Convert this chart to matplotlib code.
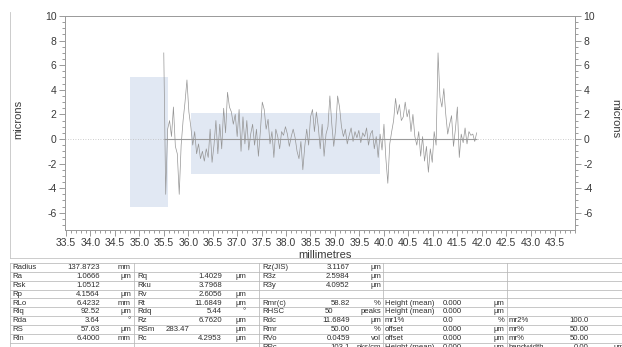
import matplotlib
matplotlib.use("Agg")
import matplotlib.pyplot as plt
import numpy as np
from matplotlib.ticker import MultipleLocator, FormatStrFormatter
from matplotlib.patches import Rectangle

plt.rcParams['font.family'] = ['Liberation Sans', 'DejaVu Sans']
plt.rcParams['axes.unicode_minus'] = False

# ---- profile data (microns), sampled along the traverse (mm) ----
sample_start_mm = 35.50
sample_step_mm = 0.0395
heights_um = [
    7.0, -4.5, 0.8, 1.5, 0.2, 2.6, -0.6, -1.2, -4.5, -0.5, 1.5, 3.0, 4.8,
    2.2, 1.0, -0.5, 0.6, -1.2, -0.4, -1.6, -1.0, -1.8, -0.8, -1.5, 0.8,
    -1.9, -0.5, 1.5, -1.2, 1.2, -0.8, 2.5, 0.5, 3.8, 2.6, 2.2, 1.2, 2.0,
    0.2, 2.4, -1.0, 1.8, -0.4, 1.5, -0.9, 0.4, 1.2, -0.5, 0.8, -1.4,
    0.6, 3.0, 2.4, 0.8, 1.6, -0.4, 0.6, -1.5, 0.8, 0.2, -0.8, 0.6, 0.3,
    1.0, 0.4, -0.6, 0.2, 0.8, 0.1, -1.0, -1.6, -0.2, -2.5, -0.6, 0.8,
    -0.5, 1.8, 2.4, 0.6, 2.2, 1.0, -0.8, 1.2, -1.4, 0.4, 1.0, 3.5, 1.2,
    -0.6, 0.8, 3.5, 2.6, 1.0, 0.2, 0.8, -0.4, 0.3, 0.9, -0.2, 0.6,
    0.1, 0.7, -0.3, 0.5, 0.2, 0.9, -0.5, 0.4, 0.7, -0.8, 0.2, -1.5, 0.4,
    -0.9, 1.2, -1.6, -3.6, -0.4, 0.6, 1.5, 3.3, 2.0, 2.8, 1.5, 1.8,
    3.0, 1.8, 2.4, 0.6, 2.0, 0.2, -0.5, 0.6, -1.4, 0.2, -1.8, -0.6, -2.7,
    -0.8, -1.9, 0.6, -0.5, 7.0, 3.4, 2.6, 4.1, 2.0, 0.4, 1.2, 1.9,
    -0.6, 0.8, 2.6, -1.5, 0.4, -0.3, 0.9, -0.4, 0.6, 0.3, 0.4,
    -0.2, 0.5,
]
position_mm = sample_start_mm + sample_step_mm * np.arange(len(heights_um))

# highlighted regions: (x0, x1, y0, y1)
highlight_regions = [(34.81, 35.59, -5.5, 5.05), (36.06, 39.93, -2.85, 2.1)]

x_ticks = np.arange(33.5, 43.51, 0.5)
y_ticks = [-6, -4, -2, 0, 2, 4, 6, 8, 10]

# ---- parameter table ----
labels_1 = ["Radius", "Ra", "Rsk", "Rp", "RLo", "Rlq", "Rda", "RS", "Rln", ""]
values_1 = ["137.8723", "1.0666", "1.0512", "4.1564", "6.4232", "92.52", "3.64", "57.63", "6.4000", ""]
units_1 = ["mm", "µm", "", "µm", "mm", "µm", "°", "µm", "mm", ""]
labels_2 = ["", "Rq", "Rku", "Rv", "Rt", "Rdq", "Rz", "RSm", "Rc", ""]
values_2 = ["", "1.4029", "3.7968", "2.6056", "11.6849", "5.44", "6.7620", "283.47", "4.2953", ""]
units_2 = ["", "µm", "", "µm", "µm", "°", "µm", "µm", "µm", ""]
labels_3 = ["Rz(JIS)", "R3z", "R3y", "", "Rmr(c)", "RHSC", "Rdc", "Rmr", "RVo", "RPc"]
values_3 = ["3.1167", "2.5984", "4.0952", "", "58.82", "50", "11.6849", "50.00", "0.0459", "103.1"]
units_3 = ["µm", "µm", "µm", "", "%", "peaks", "µm", "%", "vol", "pks/cm"]
labels_4 = ["", "", "", "", "Height (mean)", "Height (mean)", "mr1%", "offset", "offset", "Height (mean)"]
values_4 = ["", "", "", "", "0.000", "0.000", "0.0", "0.000", "0.000", "0.000"]
units_4 = ["", "", "", "", "µm", "µm", "%", "µm", "µm", "µm"]
labels_5 = ["", "", "", "", "", "", "mr2%", "mr%", "mr%", "bandwidth"]
values_5 = ["", "", "", "", "", "", "100.0", "50.00", "50.00", "0.00"]
units_5 = ["", "", "", "", "", "", "", "", "", "µm"]

W, H = 622, 347
fig = plt.figure(figsize=(W / 100, H / 100), dpi=100)
fig.patch.set_facecolor('white')

# page layer in pixel coordinates (frame + table)
page = fig.add_axes([0, 0, 1, 1], zorder=0)
page.set_xlim(0, W)
page.set_ylim(H, 0)
page.axis('off')

frame_col = '#c4c4c4'
page.plot([10, 10], [12, 258], color=frame_col, lw=0.6)
page.plot([10, W], [258, 258], color=frame_col, lw=0.6)

# table grid
line_col = '#b8b8b8'
text_col = '#2e2e2e'
fs_tab = 5.6
top, pitch = 263.0, 8.85
n_rows = len(labels_1)
for r in range(n_rows + 1):
    y = top + pitch * r
    page.plot([10, W], [y, y], color=line_col, lw=0.55)
for xd in [10, 134, 259, 383, 507]:
    page.plot([xd, xd], [top, H], color=line_col, lw=0.55)

def cell(x, y, s, ha):
    if s:
        page.text(x, y, s, fontsize=fs_tab, color=text_col, ha=ha, va='center')

for r in range(n_rows):
    yc = top + pitch * r + pitch / 2 + 0.3
    cell(12, yc, labels_1[r], 'left')
    cell(100, yc, values_1[r], 'right')
    cell(131, yc, units_1[r], 'right')
    cell(137, yc, labels_2[r], 'left')
    if values_2[r] == "283.47":
        cell(190, yc, values_2[r], 'right')
    else:
        cell(222, yc, values_2[r], 'right')
    cell(246, yc, units_2[r], 'right')
    cell(262, yc, labels_3[r], 'left')
    if values_3[r] == "50":
        cell(325, yc, values_3[r], 'left')
    else:
        cell(350, yc, values_3[r], 'right')
    cell(381, yc, units_3[r], 'right')
    cell(385, yc, labels_4[r], 'left')
    cell(443, yc, values_4[r], 'left')
    cell(504, yc, units_4[r], 'right')
    cell(509, yc, labels_5[r], 'left')
    cell(589, yc, values_5[r], 'right')
    cell(614, yc, units_5[r], 'left')

# ---- profile chart ----
ax = fig.add_axes([65 / W, 1 - 230 / H, 510 / W, 214 / H], zorder=1)
ax.set_facecolor('none')
ax.set_xlim(33.48, 43.91)
ax.set_ylim(-7.4, 10)

for x0, x1, y0, y1 in highlight_regions:
    ax.add_patch(Rectangle((x0, y0), x1 - x0, y1 - y0, facecolor='#e1e8f3',
                           edgecolor='none', zorder=0))

ax.axhline(0, color='#bdbdbd', lw=0.6, ls=(0, (1, 2)), zorder=1)
ax.hlines(0, position_mm[0], position_mm[-1], color='#9a9a9a', lw=0.8, zorder=2)
ax.plot(position_mm, heights_um, color='#959595', lw=0.5, zorder=3)

spine_col = '#9a9a9a'
for sp in ax.spines.values():
    sp.set_color(spine_col)
    sp.set_linewidth(0.6)

ax.set_xticks(x_ticks)
ax.xaxis.set_major_formatter(FormatStrFormatter('%.1f'))
ax.xaxis.set_minor_locator(MultipleLocator(0.1))
ax.set_yticks(y_ticks)
ax.yaxis.set_minor_locator(MultipleLocator(0.5))
tick_kw = dict(direction='out', color='#8a8a8a', width=0.6, labelcolor='#3a3a3a')
ax.tick_params(which='major', length=4, labelsize=7.5, pad=2, **tick_kw)
ax.tick_params(which='minor', length=2, **tick_kw)

ax2 = ax.twinx()
ax2.set_ylim(ax.get_ylim())
ax2.set_yticks(y_ticks)
ax2.yaxis.set_minor_locator(MultipleLocator(0.5))
ax2.tick_params(which='major', length=4, labelsize=7.5, pad=2, **tick_kw)
ax2.tick_params(which='minor', length=2, **tick_kw)
for sp in ax2.spines.values():
    sp.set_color(spine_col)
    sp.set_linewidth(0.6)

fig.text(325 / W, 1 - 255 / H, "millimetres", fontsize=8, color='#3a3a3a',
         ha='center', va='center')
fig.text(18 / W, 1 - 119 / H, "microns", fontsize=8, color='#3a3a3a',
         ha='center', va='center', rotation=90)
fig.text(615 / W, 1 - 119 / H, "microns", fontsize=8, color='#3a3a3a',
         ha='center', va='center', rotation=270)

fig.savefig('out.png', dpi=100)
